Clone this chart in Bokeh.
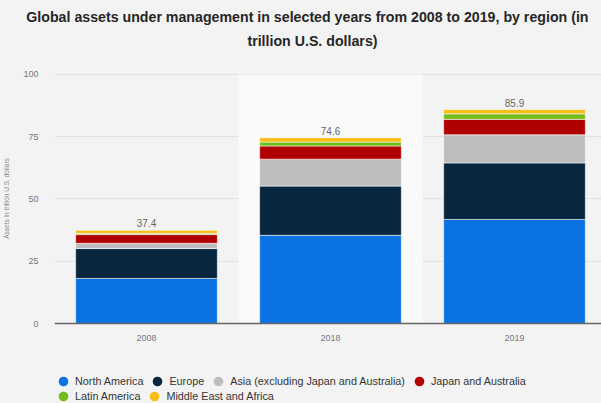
from bokeh.plotting import figure
from bokeh.layouts import column
from bokeh.models import (FactorRange, Range1d, ColumnDataSource, Legend,
                          LegendItem, FixedTicker, Title, Span)
from bokeh.embed import file_html
from bokeh.resources import INLINE
from bokeh.core.properties import value

# ---------------- data ----------------
years = ["2008", "2018", "2019"]
north_america = [18.1, 35.4, 41.8]
europe = [12.0, 19.8, 22.7]
asia_ex_japan_australia = [2.1, 10.8, 11.3]
japan_and_australia = [3.5, 5.3, 6.2]
latin_america = [0.5, 1.6, 2.2]
middle_east_and_africa = [1.2, 1.7, 1.7]
totals = [37.4, 74.6, 85.9]
total_labels = ["37.4", "74.6", "85.9"]
highlight_year = ["2018"]

region_keys = ["na", "eu", "asia", "jpau", "latam", "mea"]
region_names = ["North America", "Europe", "Asia (excluding Japan and Australia)",
                "Japan and Australia", "Latin America", "Middle East and Africa"]
region_colors = ["#0a72e3", "#07263f", "#bdbdbd", "#b10000", "#72bd1b", "#f6bd16"]
y_ticks = [0, 25, 50, 75, 100]

title_line1 = "Global assets under management in selected years from 2008 to 2019, by region (in"
title_line2 = "trillion U.S. dollars)"

# ---------------- chart figure ----------------
BG = "#f3f3f3"
FONT = "Liberation Sans"

p = figure(x_range=FactorRange(*years), y_range=Range1d(-10.04, 110.44),
           frame_width=552, frame_height=300, title=None,
           min_border_left=49, min_border_right=0, min_border_top=48, min_border_bottom=0,
           output_backend="svg", toolbar_location=None,
           background_fill_color=BG, border_fill_color=BG, outline_line_color=None)

for txt, so, off in [(title_line2, 0, 229), (title_line1, 12, 18)]:
    p.add_layout(Title(text=txt, align="right", offset=off, text_font=FONT,
                       text_font_size="14.2px", text_font_style="bold",
                       text_color="#262626", standoff=so), "above")

# highlighted column band
hl = ColumnDataSource(dict(year=highlight_year, top=[100]))
p.vbar(x="year", top="top", bottom=0, width=1.0, source=hl,
       fill_color="#fafafa", line_color=None)

# stacked bars
data = dict(year=years, na=north_america, eu=europe, asia=asia_ex_japan_australia,
            jpau=japan_and_australia, latam=latin_america, mea=middle_east_and_africa,
            total=totals, label=total_labels, base=[0] * len(years))
src = ColumnDataSource(data)
p.vbar_stack(region_keys, x="year", width=0.77, color=region_colors, source=src,
             line_color="white", line_width=0.8, line_alpha=0.7)

# total labels
p.text(x="year", y="total", text="label", source=src, text_align="center",
       text_baseline="bottom", y_offset=-3, text_font_size="10px",
       text_color="#666666", text_font=value(FONT))

# category labels under the baseline
p.text(x="year", y="base", text="year", source=src, text_align="center",
       text_baseline="middle", y_offset=14, text_font_size="9px",
       text_color="#777777", text_font=value(FONT))

# baseline
p.add_layout(Span(location=0, dimension="width", line_color="#666666", line_width=1.5))

# axes
p.xaxis.visible = False
p.xgrid.grid_line_color = None
p.ygrid.grid_line_color = "#e2e2e2"
p.ygrid.ticker = FixedTicker(ticks=y_ticks[1:])
p.yaxis.ticker = FixedTicker(ticks=y_ticks)
p.yaxis.axis_line_color = None
p.yaxis.major_tick_line_color = None
p.yaxis.minor_tick_line_color = None
p.yaxis.major_label_standoff = 10
p.yaxis.major_label_text_font_size = "9px"
p.yaxis.major_label_text_color = "#777777"
p.yaxis.major_label_text_font = FONT
p.yaxis.axis_label = "Assets in trillion U.S. dollars"
p.yaxis.axis_label_text_font_size = "6.5px"
p.yaxis.axis_label_text_font_style = "normal"
p.yaxis.axis_label_text_color = "#888888"
p.yaxis.axis_label_text_font = FONT
p.yaxis.axis_label_standoff = 10

# ---------------- legend strip ----------------
lg = figure(width=601, height=55, x_range=Range1d(0, 1), y_range=Range1d(0, 1),
            x_axis_type=None, y_axis_type=None, min_border=0,
            output_backend="svg", toolbar_location=None,
            background_fill_color=BG, border_fill_color=BG, outline_line_color=None)
lg.xgrid.visible = False
lg.ygrid.visible = False

items = []
for name, col in zip(region_names, region_colors):
    s = ColumnDataSource(dict(x=[0.5], y=[float("nan")]))
    r = lg.scatter(x="x", y="y", marker="circle", size=10, fill_color=col,
                   line_color=None, source=s)
    items.append(LegendItem(label=name, renderers=[r]))


def make_legend(its, loc):
    return Legend(items=its, orientation="horizontal", location=loc,
                  border_line_alpha=0, background_fill_alpha=0, padding=0, margin=0,
                  spacing=2, glyph_width=24, glyph_height=24, label_standoff=0,
                  label_text_font_size="10.8px", label_text_color="#333333",
                  label_text_font=FONT, label_height=24)


lg.add_layout(make_legend(items[:4], (-3, 10)))
lg.add_layout(make_legend(items[4:], (-3, -5)))

layout = column(p, lg, spacing=0, styles={"background-color": BG})
open("out.html", "w").write(file_html(layout, INLINE))
